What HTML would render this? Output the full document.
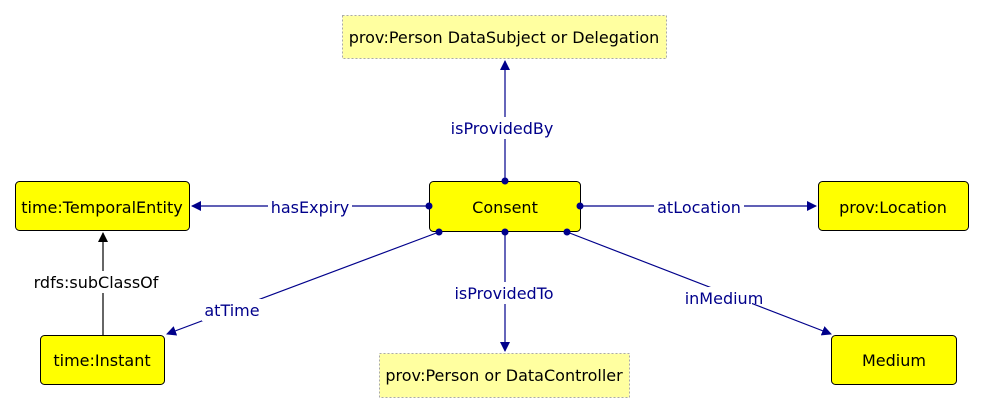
<!DOCTYPE html>
<html><head><style>body{margin:0;background:#fff}svg{display:block}</style></head><body>
<svg width="984" height="412" xmlns="http://www.w3.org/2000/svg" font-family="DejaVu Sans, sans-serif" font-size="16">
<defs><marker id="a" markerWidth="10" markerHeight="10" refX="9" refY="5" orient="auto" markerUnits="userSpaceOnUse"><path d="M0,0 L10,5 L0,10 z" fill="#00008b"/></marker>
<marker id="b" markerWidth="10" markerHeight="10" refX="9" refY="5" orient="auto" markerUnits="userSpaceOnUse"><path d="M0,0 L10,5 L0,10 z" fill="#000"/></marker></defs>
<g stroke="#00008b" stroke-width="1.2" fill="none">
<line x1="505" y1="181" x2="505" y2="61" marker-end="url(#a)"/>
<line x1="429" y1="206" x2="192" y2="206" marker-end="url(#a)"/>
<line x1="580" y1="206" x2="816" y2="206" marker-end="url(#a)"/>
<line x1="505" y1="232" x2="505" y2="351" marker-end="url(#a)"/>
<line x1="439" y1="232" x2="167" y2="334" marker-end="url(#a)"/>
<line x1="567" y1="232" x2="831" y2="334" marker-end="url(#a)"/>
</g>
<line x1="103" y1="335" x2="103" y2="233" stroke="#000" stroke-width="1.2" marker-end="url(#b)"/>
<g fill="#fff"><rect x="443" y="117" width="120" height="22"/><rect x="268" y="195" width="84" height="22"/><rect x="654" y="195" width="90" height="22"/><rect x="448" y="282" width="112" height="22"/><rect x="202" y="299" width="60" height="22"/><rect x="696" y="287" width="56" height="22"/><rect x="25" y="271" width="145" height="22"/></g>
<g fill="#00008b" text-anchor="middle">
<text x="502" y="134">isProvidedBy</text><text x="310" y="213">hasExpiry</text><text x="699" y="213">atLocation</text><text x="504" y="299">isProvidedTo</text><text x="232" y="316">atTime</text><text x="724" y="304">inMedium</text></g>
<text x="96" y="288" text-anchor="middle">rdfs:subClassOf</text>
<g stroke="#000" stroke-width="1"><rect x="429.5" y="181.5" width="151" height="50" rx="4" fill="#ffff00"/>
<rect x="15.5" y="181.5" width="174" height="49" rx="4" fill="#ffff00"/>
<rect x="818.5" y="181.5" width="150" height="49" rx="4" fill="#ffff00"/>
<rect x="40.5" y="335.5" width="124" height="49" rx="4" fill="#ffff00"/>
<rect x="831.5" y="335.5" width="125" height="49" rx="4" fill="#ffff00"/></g>
<g fill="#00008b"><circle cx="505" cy="181" r="3.5"/><circle cx="429" cy="206" r="3.5"/><circle cx="580" cy="206" r="3.5"/><circle cx="505" cy="232" r="3.5"/><circle cx="439" cy="232" r="3.5"/><circle cx="567" cy="232" r="3.5"/></g>
<g stroke="#aaa" stroke-dasharray="2,2" fill="#ffffa0"><rect x="342.5" y="15.5" width="324" height="43"/><rect x="379.5" y="353.5" width="250" height="44"/></g>
<g fill="#000" text-anchor="middle">
<text x="505" y="213">Consent</text><text x="102" y="213">time:TemporalEntity</text><text x="893" y="213">prov:Location</text><text x="102" y="366">time:Instant</text><text x="894" y="366">Medium</text><text x="504" y="43">prov:Person DataSubject or Delegation</text><text x="504" y="381">prov:Person or DataController</text></g>
</svg></body></html>
